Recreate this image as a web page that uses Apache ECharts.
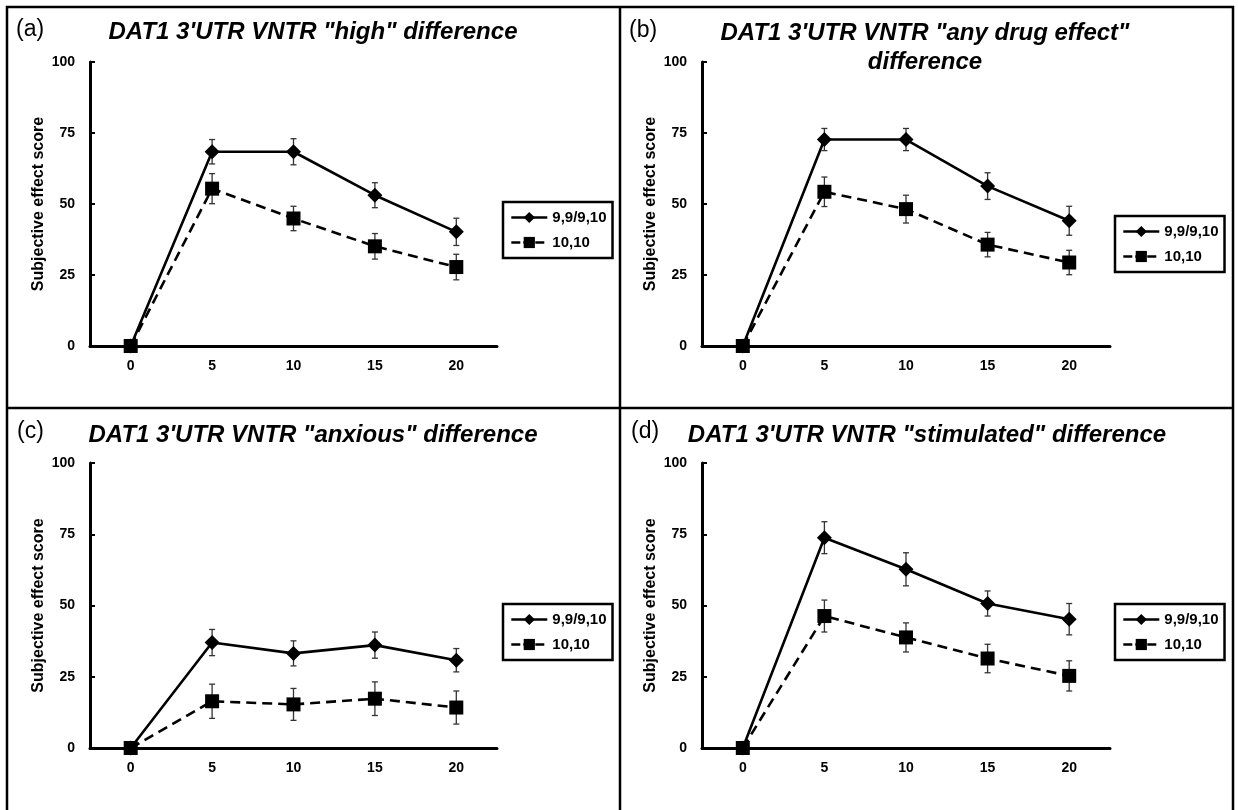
<!DOCTYPE html>
<html>
<head>
<meta charset="utf-8">
<title>DAT1 3'UTR VNTR</title>
<script src="https://cdn.jsdelivr.net/npm/echarts@6.0.0/dist/echarts.min.js"></script>
<style>
  html, body { margin: 0; padding: 0; background: #fff; }
  #chart { width: 1238px; height: 810px; }
</style>
</head>
<body>
<div id="chart"></div>
<script>
// time points (x categories) and y ticks
var timePoints = ['0', '5', '10', '15', '20'];
var groupNames = ['9,9/9,10', '10,10'];

// (a) "high"
var highMean9 = [0, 68.4, 68.4, 53.1, 40.2];
var highSe9   = [0, 4.3, 4.6, 4.4, 4.8];
var highMean10 = [0, 55.4, 44.9, 35.1, 27.8];
var highSe10   = [0, 5.3, 4.3, 4.5, 4.5];

// (b) "any drug effect"
var drugMean9 = [0, 72.7, 72.7, 56.3, 44.1];
var drugSe9   = [0, 3.9, 3.9, 4.7, 5.1];
var drugMean10 = [0, 54.3, 48.2, 35.7, 29.4];
var drugSe10   = [0, 5.2, 4.9, 4.3, 4.3];

// (c) "anxious"
var anxMean9 = [0, 37.0, 33.2, 36.1, 30.8];
var anxSe9   = [0, 4.6, 4.4, 4.6, 4.1];
var anxMean10 = [0, 16.4, 15.3, 17.3, 14.2];
var anxSe10   = [0, 6.0, 5.6, 5.9, 5.8];

// (d) "stimulated"
var stimMean9 = [0, 73.8, 62.7, 50.7, 45.2];
var stimSe9   = [0, 5.6, 5.8, 4.4, 5.5];
var stimMean10 = [0, 46.3, 38.8, 31.4, 25.3];
var stimSe10   = [0, 5.6, 5.1, 5.0, 5.3];

var FONT = '"Liberation Sans", Arial, sans-serif';

var panels = [
  { tag: '(a)', title: ['DAT1 3\'UTR VNTR "high" difference'], m9: highMean9, s9: highSe9, m10: highMean10, s10: highSe10,
    grid: { left: 90, top: 62, width: 407, height: 284 }, cx: 313, tagPos: [16, 31], titleY: 32, legendPos: [503, 202] },
  { tag: '(b)', title: ['DAT1 3\'UTR VNTR "any drug effect"', 'difference'], m9: drugMean9, s9: drugSe9, m10: drugMean10, s10: drugSe10,
    grid: { left: 702, top: 62, width: 408, height: 284 }, cx: 925, tagPos: [629, 32], titleY: 33, legendPos: [1115, 216] },
  { tag: '(c)', title: ['DAT1 3\'UTR VNTR "anxious" difference'], m9: anxMean9, s9: anxSe9, m10: anxMean10, s10: anxSe10,
    grid: { left: 90, top: 463, width: 407, height: 285 }, cx: 313, tagPos: [17, 433], titleY: 435, legendPos: [503, 604] },
  { tag: '(d)', title: ['DAT1 3\'UTR VNTR "stimulated" difference'], m9: stimMean9, s9: stimSe9, m10: stimMean10, s10: stimSe10,
    grid: { left: 702, top: 463, width: 408, height: 285 }, cx: 927, tagPos: [631, 433], titleY: 435, legendPos: [1115, 604] }
];

function errorBarItem(params, api) {
  var x = api.value(0);
  var mean = api.value(1);
  var se = api.value(2);
  if (!se) return;
  var hi = api.coord([x, mean + se]);
  var lo = api.coord([x, mean - se]);
  var cap = 3;
  var st = { stroke: '#333', lineWidth: 1.3 };
  return {
    type: 'group',
    children: [
      { type: 'line', shape: { x1: hi[0], y1: hi[1], x2: lo[0], y2: lo[1] }, style: st },
      { type: 'line', shape: { x1: hi[0] - cap, y1: hi[1], x2: hi[0] + cap, y2: hi[1] }, style: st },
      { type: 'line', shape: { x1: lo[0] - cap, y1: lo[1], x2: lo[0] + cap, y2: lo[1] }, style: st }
    ]
  };
}

function toErr(means, ses) {
  var out = [];
  for (var i = 0; i < means.length; i++) out.push([i, means[i], ses[i]]);
  return out;
}

var grids = [], xAxes = [], yAxes = [], series = [], legends = [], graphics = [];

panels.forEach(function (p, i) {
  grids.push(p.grid);
  xAxes.push({
    type: 'category', gridIndex: i, data: timePoints, boundaryGap: true,
    axisLine: { lineStyle: { color: '#000', width: 3 } },
    axisTick: { inside: true, alignWithLabel: true, length: 4, lineStyle: { color: '#000', width: 2 } },
    axisLabel: { color: '#000', fontFamily: FONT, fontWeight: 'bold', fontSize: 14, margin: 13 }
  });
  yAxes.push({
    type: 'value', gridIndex: i, min: 0, max: 100, interval: 25,
    name: 'Subjective effect score', nameLocation: 'middle', nameGap: 43,
    nameTextStyle: { color: '#000', fontFamily: FONT, fontWeight: 'bold', fontSize: 16 },
    axisLine: { show: true, lineStyle: { color: '#000', width: 3 } },
    axisTick: { show: true, inside: true, length: 5, lineStyle: { color: '#000', width: 2 } },
    axisLabel: { color: '#000', fontFamily: FONT, fontWeight: 'bold', fontSize: 14, margin: 15 },
    splitLine: { show: false }
  });
  series.push({
    type: 'custom', xAxisIndex: i, yAxisIndex: i, renderItem: errorBarItem,
    data: toErr(p.m9, p.s9), z: 3, silent: true
  });
  series.push({
    type: 'custom', xAxisIndex: i, yAxisIndex: i, renderItem: errorBarItem,
    data: toErr(p.m10, p.s10), z: 3, silent: true
  });
  series.push({
    name: groupNames[0], type: 'line', xAxisIndex: i, yAxisIndex: i, data: p.m9,
    symbol: 'diamond', symbolSize: [15, 15], showAllSymbol: true,
    lineStyle: { color: '#000', width: 2.6, type: 'solid' },
    itemStyle: { color: '#000' }, z: 4, animation: false
  });
  series.push({
    name: groupNames[1], type: 'line', xAxisIndex: i, yAxisIndex: i, data: p.m10,
    symbol: 'rect', symbolSize: 14, showAllSymbol: true,
    lineStyle: { color: '#000', width: 2.6, type: [10, 6] },
    itemStyle: { color: '#000' }, z: 4, animation: false
  });
  legends.push({
    data: [
      { name: groupNames[0] },
      { name: groupNames[1], lineStyle: { type: [9, 3] } }
    ],
    orient: 'vertical', left: p.legendPos[0], top: p.legendPos[1],
    itemWidth: 36, itemHeight: 14, itemGap: 10, padding: [8, 6, 8, 7],
    borderColor: '#000', borderWidth: 2.5,
    lineStyle: { width: 2.6 },
    textStyle: { color: '#000', fontFamily: FONT, fontWeight: 'bold', fontSize: 15 },
    selectedMode: false
  });
  graphics.push({
    type: 'text', left: p.tagPos[0], top: p.tagPos[1] - 13,
    style: { text: p.tag, font: '23px ' + FONT, fill: '#000' }
  });
  p.title.forEach(function (line, k) {
    graphics.push({
      type: 'text', x: p.cx, y: p.titleY + k * 29,
      style: { text: line, font: 'italic bold 24px ' + FONT, fill: '#000', textAlign: 'center', textVerticalAlign: 'middle' }
    });
  });
});

// panel frame
graphics.push({ type: 'rect', shape: { x: 7, y: 7, width: 1226, height: 830 }, style: { fill: null, stroke: '#000', lineWidth: 2.5 } });
graphics.push({ type: 'line', shape: { x1: 620, y1: 7, x2: 620, y2: 830 }, style: { stroke: '#000', lineWidth: 2.5 } });
graphics.push({ type: 'line', shape: { x1: 7, y1: 408, x2: 1233, y2: 408 }, style: { stroke: '#000', lineWidth: 2.5 } });

var chart = echarts.init(document.getElementById('chart'), null, { renderer: 'canvas' });
chart.setOption({
  backgroundColor: '#fff',
  animation: false,
  grid: grids,
  xAxis: xAxes,
  yAxis: yAxes,
  legend: legends,
  series: series,
  graphic: graphics
});
</script>
</body>
</html>
